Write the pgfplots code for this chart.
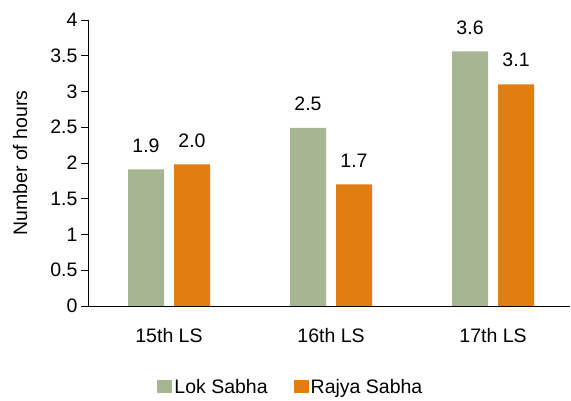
\documentclass[border=0pt]{standalone}
\usepackage{pgfplots}
\pgfplotsset{compat=1.18}
\usepackage{fontspec}
\setmainfont{Liberation Sans}
\definecolor{loksabha}{RGB}{166,181,146}
\definecolor{rajya}{RGB}{224,126,18}
\newcommand{\chartfont}{\fontsize{19.5}{23}\selectfont}
\begin{document}
\begin{tikzpicture}
\begin{axis}[
  at={(0pt,0pt)}, anchor=south west,
  scale only axis, width=482pt, height=286pt,
  xmin=-0.5, xmax=2.475, ymin=0, ymax=4,
  axis x line*=bottom, axis y line*=left,
  axis line style={black, line width=0.9pt},
  xtick={0,1,2}, xticklabels={15th LS,16th LS,17th LS},
  x tick style={draw=none},
  ytick={0,0.5,...,4},
  yticklabels={0,0.5,1,1.5,2,2.5,3,3.5,4},
  y tick style={black, line width=0.9pt},
  tick align=outside, major tick length=7pt,
  tick label style={font=\chartfont},
  xticklabel style={anchor=base, yshift=-30pt},
  yticklabel style={anchor=east, xshift=0pt},
  /pgf/number format/assume math mode=true,
  ylabel={Number of hours},
  ylabel style={font=\chartfont, at={(axis description cs:-0.141,0.5)}, anchor=center},
  ybar, bar width=36pt,
  nodes near coords,
  nodes near coords style={font=\chartfont, anchor=south, inner sep=0pt, yshift=17pt,
    /pgf/number format/.cd, fixed, fixed zerofill, precision=1},
  legend style={at={(axis description cs:0.421,-0.283)}, anchor=center, draw=none,
    font=\chartfont, legend columns=2,
    /tikz/every even column/.append style={column sep=24pt},
    nodes={inner sep=2pt}},
  legend image code/.code={\fill[#1,draw=none] (0pt,-6.5pt) rectangle (15pt,7pt);},
]
\addplot[fill=loksabha, draw=none, bar shift=-23pt] coordinates {(0,1.91) (1,2.49) (2,3.56)};
\addplot[fill=rajya, draw=none, bar shift=23pt] coordinates {(0,1.98) (1,1.70) (2,3.10)};
\legend{Lok Sabha, Rajya Sabha}
\end{axis}
\pgfresetboundingbox
\useasboundingbox (-88pt,-95pt) rectangle (483pt,306pt);
\end{tikzpicture}
\end{document}
